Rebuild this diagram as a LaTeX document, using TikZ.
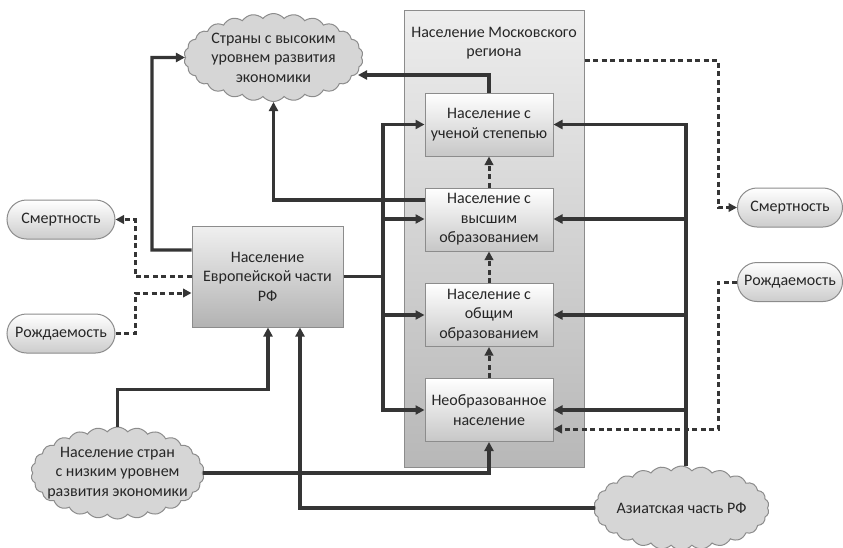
\documentclass[tikz,border=0pt]{standalone}
\usepackage{fontspec}
\setmainfont{Carlito}
\usetikzlibrary{shapes.symbols,shapes.misc,arrows.meta,calc}
\definecolor{ln}{HTML}{353535}
\definecolor{bd}{HTML}{8C8C8C}
\definecolor{tx}{HTML}{262626}
\tikzset{
  txt/.style={font=\fontsize{16}{19.5}\selectfont, text=tx, align=center},
  box/.style={txt, draw=bd, line width=1pt, top color=white, bottom color=black!22, minimum width=128pt, minimum height=63pt, inner sep=0pt},
  eubox/.style={txt, draw=bd, line width=1pt, top color=black!6, bottom color=black!30, minimum width=151pt, minimum height=101pt, inner sep=0pt},
  container/.style={draw=bd, line width=1pt, top color=black!7, bottom color=black!28, minimum width=180pt, minimum height=457pt, inner sep=0pt},
  pill/.style={txt, rounded rectangle, draw=bd, line width=1pt, top color=white, bottom color=black!20, minimum height=39pt, inner sep=0pt},
  cl/.style={txt, cloud, cloud puffs=26, cloud puff arc=100, cloud ignores aspect, draw=bd, line width=1pt, fill=black!16, inner xsep=-14pt, inner ysep=-10pt},
  arr/.style={draw=ln, line width=3.1pt, -{Triangle[length=9pt,width=9pt]}},
  ln/.style={draw=ln, line width=3.1pt},
  darr/.style={draw=ln, line width=3pt, dash pattern=on 5pt off 3.5pt, -{Triangle[length=8.5pt,width=8.5pt]}},
  jdot/.style={circle, fill=ln, inner sep=0pt, minimum size=6pt}
}
\begin{document}
\begin{tikzpicture}[x=1pt,y=-1pt]
\useasboundingbox (0,0) rectangle (843,547);
% container
\node[container] (mr) at (494,238.5) {};
\node[txt] (mrt) at (494,43) {Население Московского\\региона};
% inner boxes
\node[box] (b1) at (489,124.5) {Население с\\ученой степепью};
\node[box] (b2) at (489,219.5) {Население с\\высшим\\образованием};
\node[box] (b3) at (489,315) {Население с\\общим\\образованием};
\node[box] (b4) at (489,410) {Необразованное\\население};
% Europe
\node[eubox] (eu) at (267.5,276.5) {Население\\Европейской части\\РФ};
% clouds
\node[cl, minimum width=179pt, minimum height=88pt] (c1) at (273.5,57.5) {Страны с высоким\\уровнем развития\\экономики};
\node[cl, minimum width=173pt, minimum height=92pt] (c2) at (117.5,473) {Население стран\\с низким уровнем\\развития экономики};
\node[cl, minimum width=175pt, minimum height=84pt] (c3) at (681.5,508) {Азиатская часть РФ};
% pills
\node[pill, minimum width=108pt] (sL) at (61,219.5) {Смертность};
\node[pill, minimum width=108pt] (rL) at (61,333.5) {Рождаемость};
\node[pill, minimum width=105pt] (sR) at (790,207.5) {Смертность};
\node[pill, minimum width=105pt] (rR) at (790,282) {Рождаемость};
% solid connectors
\draw[arr] (eu.west |- 0,250) -| (152,57.5) -- (c1.west);
\draw[arr] (b1.north) |- (358,75);
\draw[arr] (b2.west |- 0,200) -| (c1.south);
\draw[ln] (eu.east) -- (383,276.5);
\draw[arr] (383,276.5) |- (b1.west);
\draw[arr] (383,276.5) |- (b4.west);
\draw[arr] (383,219) -- (b2.west |- 0,219);
\draw[arr] (383,315) -- (b3.west);
\node[jdot] (j1) at (383,200) {};
\draw[arr] (c3.north -| 686,0) |- (b1.east);
\draw[arr] (686,219) -- (b2.east |- 0,219);
\draw[arr] (686,315) -- (b3.east);
\draw[arr] (686,410) -- (b4.east);
\draw[arr] (c3.west) -| (eu.south -| 300,0);
\draw[arr] (c2.north) -- ++(0,-37) -| (eu.south -| 268,0);
\draw[arr] (c2.east) -| (b4.south);
\node[jdot] (j2) at (300,473) {};
% dashed connectors
\draw[darr] (mr.east |- 0,60) -| (718,207.5) -- (sR.west);
\draw[darr] (rR.west) -| (718,429) -- (b4.east |- 0,429);
\draw[darr] (eu.west) -| (135,219.5) -- (sL.east);
\draw[darr] (rL.east) -| (135,293) -- (eu.west |- 0,293);
\draw[darr] (b4.north) -- (b3.south);
\draw[darr] (b3.north) -- (b2.south);
\draw[darr] (b2.north) -- (b1.south);
\end{tikzpicture}
\end{document}
